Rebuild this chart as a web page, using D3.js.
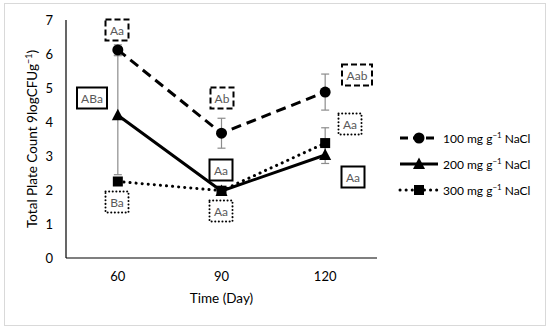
<!DOCTYPE html>
<html><head><meta charset="utf-8">
<script src="https://cdn.jsdelivr.net/npm/d3@7"></script>
<style>body{margin:0;background:#fff;} text{font-family:Lato,"Open Sans",sans-serif;}</style>
</head><body>
<svg id="c" width="550" height="332"></svg>
<script>
const days = ["60", "90", "120"];
const yTicks = [0, 1, 2, 3, 4, 5, 6, 7];
const seriesNames = ["100 mg g\u207B\u00B9 NaCl", "200 mg g\u207B\u00B9 NaCl", "300 mg g\u207B\u00B9 NaCl"];
const s100 = [6.12, 3.67, 4.88];
const s200 = [4.2, 1.97, 3.03];
const s300 = [2.25, 1.98, 3.38];
const e100 = [0.15, 0.44, 0.53];
const e200 = [1.75, 0.05, 0.25];
const e300 = [0.1, 0.05, 0.45];
// significance letters: [series index, day, label, dx, dy(value units offset)]
const letters100 = ["Aa", "Ab", "Aab"];
const letters200 = ["ABa", "Aa", "Aa"];
const letters300 = ["Ba", "Aa", "Aa"];

const svg = d3.select("#c");
svg.append("rect").attr("x",4.5).attr("y",3.5).attr("width",541).attr("height",322)
  .attr("fill","#fff").attr("stroke","#d9d9d9").attr("stroke-width",1);

const x = d3.scaleBand().domain(days).range([66, 377]);
const y = d3.scaleLinear().domain([0, 7]).range([258, 20]);
const cx = d => x(d) + x.bandwidth()/2;

// axes
svg.append("line").attr("x1",66).attr("x2",66).attr("y1",y(7)).attr("y2",y(0)).attr("stroke","#000").attr("stroke-width",1.2);
svg.append("line").attr("x1",66).attr("x2",377).attr("y1",y(0)).attr("y2",y(0)).attr("stroke","#000").attr("stroke-width",1.2);
svg.selectAll(".yt").data(yTicks).enter().append("text")
  .attr("x",53).attr("y",d=>y(d)+4.5).attr("text-anchor","end").attr("font-size",13).attr("fill","#000").text(d=>d);
svg.selectAll(".xt").data(days).enter().append("text")
  .attr("x",d=>cx(d)).attr("y",281).attr("text-anchor","middle").attr("font-size",13).attr("fill","#000").text(d=>d);
svg.append("text").attr("x",cx("90")).attr("y",303).attr("text-anchor","middle").attr("font-size",13.5).text("Time (Day)");
svg.append("text").attr("transform","translate(37,"+y(3.5)+") rotate(-90)").attr("text-anchor","middle")
  .attr("font-size",13.5).html('Total Plate Count 9logCFUg<tspan dy="-5" font-size="9">\u22121</tspan><tspan dy="5">)</tspan>');

const series = [
  {v:s100, e:e100, dash:"10,6", cap:"butt", marker:"circle", letters:letters100, box:"6,3"},
  {v:s200, e:e200, dash:null, cap:"butt", marker:"triangle", letters:letters200, box:null},
  {v:s300, e:e300, dash:"0.1,6", cap:"round", marker:"square", letters:letters300, box:"0.1,3.5"}
];

// error bars
series.forEach(s => {
  days.forEach((d,i) => {
    const g = svg.append("g").attr("stroke","#8c8c8c").attr("stroke-width",1.2);
    g.append("line").attr("x1",cx(d)).attr("x2",cx(d)).attr("y1",y(s.v[i]+s.e[i])).attr("y2",y(s.v[i]-s.e[i]));
    [s.v[i]+s.e[i], s.v[i]-s.e[i]].forEach(val=>{
      g.append("line").attr("x1",cx(d)-4).attr("x2",cx(d)+4).attr("y1",y(val)).attr("y2",y(val));
    });
  });
});

const line = d3.line().x((v,i)=>cx(days[i])).y(v=>y(v));
function drawMarker(g, type, px, py) {
  if (type==="circle") g.append("circle").attr("cx",px).attr("cy",py).attr("r",5.5).attr("fill","#000");
  else if (type==="triangle") g.append("path").attr("d",`M${px},${py-6.5}L${px+6},${py+5}L${px-6},${py+5}Z`).attr("fill","#000");
  else g.append("rect").attr("x",px-5).attr("y",py-5).attr("width",10).attr("height",10).attr("fill","#000");
}
series.forEach(s => {
  const p = svg.append("path").attr("d",line(s.v)).attr("fill","none").attr("stroke","#000")
    .attr("stroke-width",3).attr("stroke-linecap",s.cap);
  if (s.dash) p.attr("stroke-dasharray",s.dash);
  s.v.forEach((v,i)=>drawMarker(svg, s.marker, cx(days[i]), y(v)));
});

// letter boxes: positions given as offsets from point
const boxPos = [
  [[0,30],[222,98],[357,75]],
  [[92,98],[221,170],[353,177]],
  [[117,202],[221,211],[350,124]]
];
boxPos[0][0] = [117,30];
series.forEach((s,si) => {
  s.letters.forEach((t,i)=>{
    const [bx,by] = boxPos[si][i];
    const w = t.length===3 ? 30 : 23;
    const r = svg.append("rect").attr("x",bx-w/2).attr("y",by-10.5).attr("width",w).attr("height",21)
      .attr("fill","#fff").attr("stroke","#000").attr("stroke-width",2).attr("stroke-linecap",si===2?"round":"butt");
    if (s.box) r.attr("stroke-dasharray",s.box);
    svg.append("text").attr("x",bx).attr("y",by+4.5).attr("text-anchor","middle").attr("font-size",12).attr("fill","#595959").text(t);
  });
});

// legend
const ly = [138, 164, 190];
series.forEach((s,i)=>{
  const l = svg.append("line").attr("x1",400).attr("x2",438).attr("y1",ly[i]).attr("y2",ly[i]).attr("stroke","#000")
    .attr("stroke-width",3).attr("stroke-linecap",s.cap);
  if (s.dash) l.attr("stroke-dasharray", i===0 ? "8,5" : s.dash);
  drawMarker(svg, s.marker, 419, ly[i]);
  svg.append("text").attr("x",443).attr("y",ly[i]+4.5).attr("font-size",12).attr("fill","#000")
    .html(`${seriesNames[i].split(" ")[0]} mg g<tspan dy="-4.5" font-size="8">\u22121</tspan><tspan dy="4.5"> NaCl</tspan>`);
});
</script>
</body></html>
